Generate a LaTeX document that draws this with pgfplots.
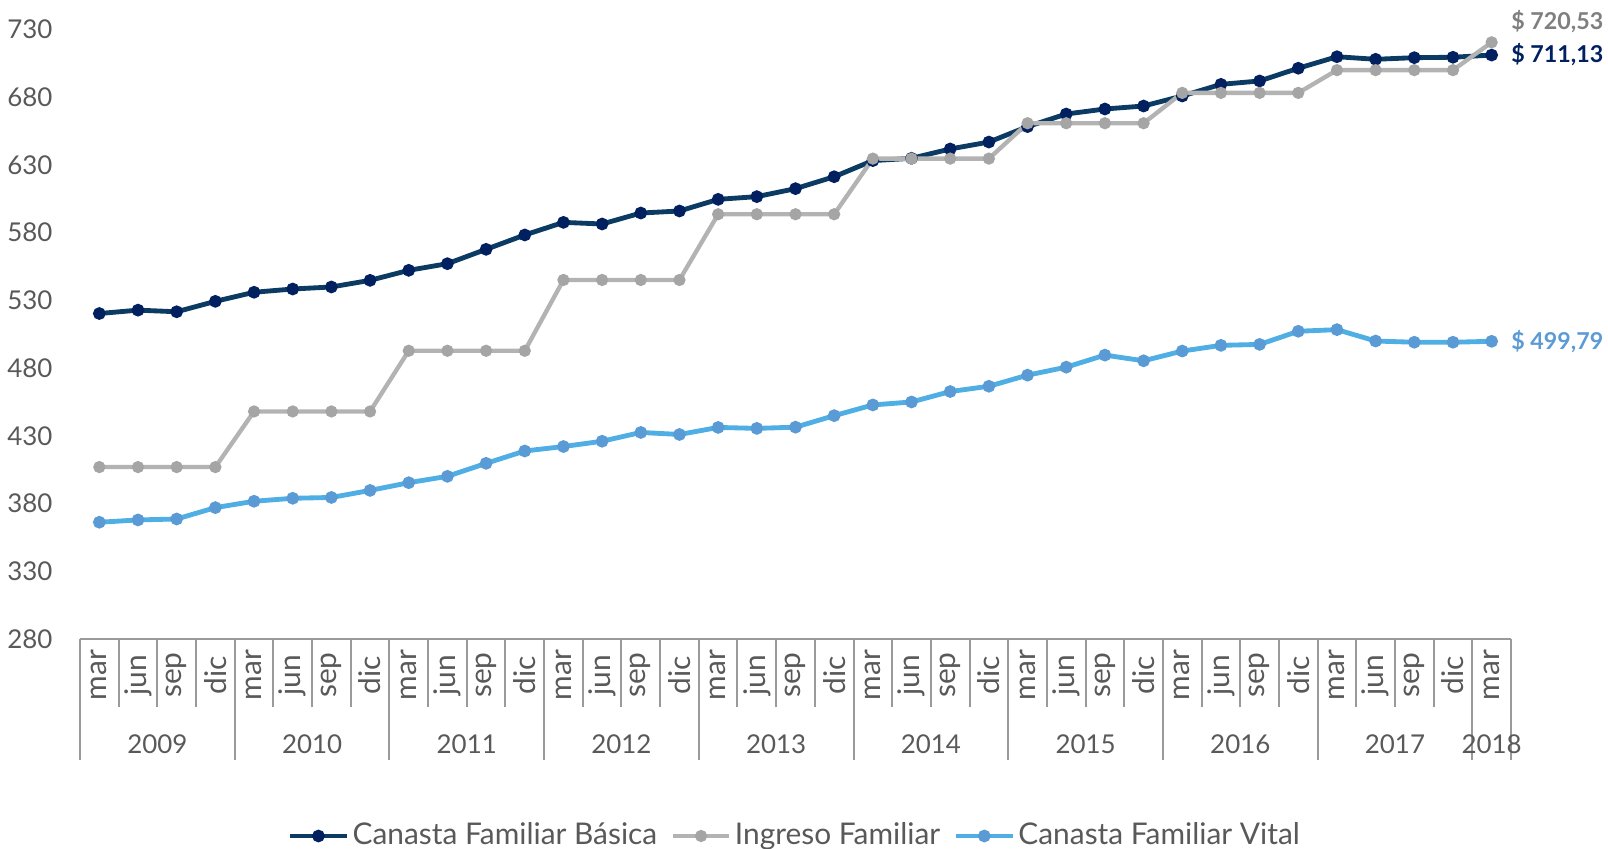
\documentclass[border=0pt]{standalone}
\usepackage{fontspec}
\setmainfont{Lato}
\usepackage{pgfplots}
\pgfplotsset{compat=1.18}
\definecolor{txtgray}{HTML}{595959}
\definecolor{axgray}{HTML}{9A9A9A}
\definecolor{cfbline}{HTML}{0B3A62}
\definecolor{cfbmark}{HTML}{002060}
\definecolor{ingline}{HTML}{B3B3B3}
\definecolor{ingmark}{HTML}{A5A5A5}
\definecolor{cfvline}{HTML}{4FAEE3}
\definecolor{cfvmark}{HTML}{5B9BD5}
\definecolor{lblgray}{HTML}{7F7F7F}
\begin{document}
\begin{tikzpicture}
\useasboundingbox (-24bp,-63bp) rectangle (458.4bp,191.7bp);
\begin{axis}[
  at={(0,0)}, anchor=south west,
  scale only axis, width=429.3bp, height=182.85bp,
  xmin=-0.5, xmax=36.5, ymin=280, ymax=730,
  clip=false,
  axis x line*=bottom, axis y line*=left,
  y axis line style={draw=none},
  x axis line style={draw=axgray, line width=0.6bp},
  tick style={draw=axgray, line width=0.6bp},
  tick align=outside,
  major tick length=0pt,
  minor tick length=20.4bp,
  xtick={0,...,36},
  xticklabels={mar,jun,sep,dic,mar,jun,sep,dic,mar,jun,sep,dic,mar,jun,sep,dic,mar,jun,sep,dic,mar,jun,sep,dic,mar,jun,sep,dic,mar,jun,sep,dic,mar,jun,sep,dic,mar},
  minor xtick={-0.5,0.5,...,36.5},
  extra x ticks={-0.5,3.5,7.5,11.5,15.5,19.5,23.5,27.5,31.5,35.5,36.5},
  extra x tick labels={},
  extra x tick style={major tick length=36.3bp, tick align=outside, xticklabel={}},
  ytick={280,330,...,730},
  /pgf/number format/assume math mode=true,
  ticklabel style={text=txtgray},
  yticklabel style={font=\fontsize{7.8}{9}\selectfont, inner sep=0pt, xshift=-8.1bp},
  xticklabel style={font=\fontsize{9}{10}\selectfont, rotate=90, anchor=center, xshift=-10.8bp},
  legend columns=3,
  legend style={at={(0.5,0)}, anchor=center, yshift=-59.1bp, draw=none, fill=none,
    font=\fontsize{9}{10}\selectfont, text=txtgray,
    nodes={inner sep=1bp},
    /tikz/every even column/.append style={column sep=3bp}},
]
\addplot[color=cfbline, line width=1.45bp, mark=*, mark size=1.15bp, mark options={fill=cfbmark, draw=cfbmark}] coordinates {
(0,520.3) (1,522.8) (2,521.6) (3,529.3) (4,536.0) (5,538.4) (6,539.9) (7,544.8)
(8,552.2) (9,557.1) (10,567.7) (11,578.3) (12,587.6) (13,586.4) (14,594.5) (15,596.0)
(16,604.6) (17,606.6) (18,612.5) (19,621.3) (20,633.2) (21,634.9) (22,641.8) (23,646.9)
(24,658.3) (25,667.6) (26,671.3) (27,673.5) (28,680.9) (29,689.5) (30,692.0) (31,701.4)
(32,709.9) (33,708.0) (34,709.2) (35,709.5) (36,711.13)};
\addlegendentry{Canasta Familiar Básica}
\addplot[color=ingline, line width=1.3bp, mark=*, mark size=1.15bp, mark options={fill=ingmark, draw=ingmark}] coordinates {
(0,406.93) (1,406.93) (2,406.93) (3,406.93) (4,448.00) (5,448.00) (6,448.00) (7,448.00)
(8,492.80) (9,492.80) (10,492.80) (11,492.80) (12,545.07) (13,545.07) (14,545.07) (15,545.07)
(16,593.60) (17,593.60) (18,593.60) (19,593.60) (20,634.67) (21,634.67) (22,634.67) (23,634.67)
(24,660.80) (25,660.80) (26,660.80) (27,660.80) (28,683.20) (29,683.20) (30,683.20) (31,683.20)
(32,700.00) (33,700.00) (34,700.00) (35,700.00) (36,720.53)};
\addlegendentry{Ingreso Familiar}
\addplot[color=cfvline, line width=1.45bp, mark=*, mark size=1.15bp, mark options={fill=cfvmark, draw=cfvmark}] coordinates {
(0,366.2) (1,367.9) (2,368.6) (3,377.0) (4,381.7) (5,383.9) (6,384.5) (7,389.7)
(8,395.4) (9,400.1) (10,409.7) (11,418.8) (12,422.1) (13,426.0) (14,432.5) (15,431.0)
(16,436.2) (17,435.5) (18,436.4) (19,444.9) (20,452.8) (21,455.0) (22,462.7) (23,466.6)
(24,474.8) (25,480.7) (26,489.6) (27,485.4) (28,492.6) (29,496.8) (30,497.5) (31,507.2)
(32,508.4) (33,500.0) (34,499.1) (35,499.1) (36,499.79)};
\addlegendentry{Canasta Familiar Vital}
% year labels
\node[font=\fontsize{7.8}{9}\selectfont, text=txtgray, yshift=-31.5bp] at (axis cs:1.5,280) {2009};
\node[font=\fontsize{7.8}{9}\selectfont, text=txtgray, yshift=-31.5bp] at (axis cs:5.5,280) {2010};
\node[font=\fontsize{7.8}{9}\selectfont, text=txtgray, yshift=-31.5bp] at (axis cs:9.5,280) {2011};
\node[font=\fontsize{7.8}{9}\selectfont, text=txtgray, yshift=-31.5bp] at (axis cs:13.5,280) {2012};
\node[font=\fontsize{7.8}{9}\selectfont, text=txtgray, yshift=-31.5bp] at (axis cs:17.5,280) {2013};
\node[font=\fontsize{7.8}{9}\selectfont, text=txtgray, yshift=-31.5bp] at (axis cs:21.5,280) {2014};
\node[font=\fontsize{7.8}{9}\selectfont, text=txtgray, yshift=-31.5bp] at (axis cs:25.5,280) {2015};
\node[font=\fontsize{7.8}{9}\selectfont, text=txtgray, yshift=-31.5bp] at (axis cs:29.5,280) {2016};
\node[font=\fontsize{7.8}{9}\selectfont, text=txtgray, yshift=-31.5bp] at (axis cs:33.5,280) {2017};
\node[font=\fontsize{7.8}{9}\selectfont, text=txtgray, yshift=-31.5bp] at (axis cs:36,280) {2018};
% end labels
\node[font=\fontsize{7}{9}\selectfont\bfseries, text=lblgray, anchor=west, inner sep=0pt, xshift=5.7bp, yshift=6.2bp] at (axis cs:36,720.53) {\$ 720,53};
\node[font=\fontsize{7}{9}\selectfont\bfseries, text=cfbmark, anchor=west, inner sep=0pt, xshift=5.7bp] at (axis cs:36,711.13) {\$ 711,13};
\node[font=\fontsize{7}{9}\selectfont\bfseries, text=cfvmark, anchor=west, inner sep=0pt, xshift=5.7bp] at (axis cs:36,499.79) {\$ 499,79};
\end{axis}
\end{tikzpicture}
\end{document}
